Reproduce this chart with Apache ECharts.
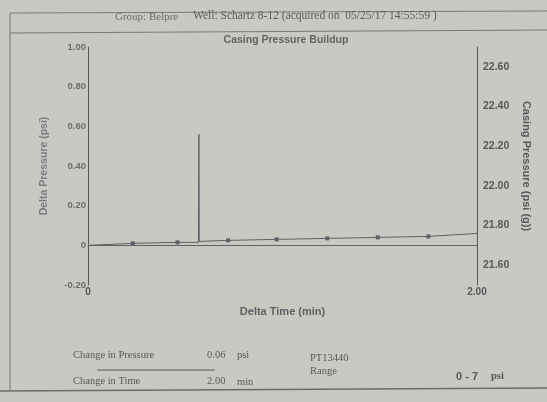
<!DOCTYPE html>
<html>
<head>
<meta charset="utf-8">
<script src="https://cdn.jsdelivr.net/npm/echarts@6/dist/echarts.min.js"></script>
<style>
  html, body { margin: 0; padding: 0; background: #c9c9c4; }
  #chart { width: 547px; height: 402px; }
</style>
</head>
<body>
<div id="chart"></div>
<script>
// delta time (min) / delta pressure (psi)
var deltaTime =     [0,    0.23,  0.46,  0.568, 0.57, 0.572, 0.72,  0.97, 1.23,  1.49, 1.75,  2.00];
var deltaPressure = [0,    0.01,  0.015, 0.015, 0.56, 0.02,  0.025, 0.03, 0.035, 0.04, 0.045, 0.06];
var markerAt =      [false, true, true,  false, false, false, true,  true, true,  true, true,  false];

var leftTicks = [-0.2, 0, 0.2, 0.4, 0.6, 0.8, 1.0];
var rightTicks = [21.6, 21.8, 22.0, 22.2, 22.4, 22.6];

var ink = '#55585a';
var chart = echarts.init(document.getElementById('chart'));

var points = deltaTime.map(function (t, i) {
  return {
    value: [t, deltaPressure[i]],
    symbol: markerAt[i] ? 'rect' : 'none'
  };
});

chart.setOption({
  backgroundColor: '#c9c9c4',
  animation: false,
  textStyle: { fontFamily: 'Liberation Sans' },
  grid: { left: 88, right: 70, top: 47, bottom: 117 },
  title: {
    text: 'Casing Pressure Buildup',
    left: 281, top: 30, textAlign: 'center',
    textStyle: { fontSize: 10.5, fontWeight: 'bold', color: '#606366' }
  },
  xAxis: {
    type: 'value', min: 0, max: 2, interval: 2,
    name: 'Delta Time (min)', nameLocation: 'middle', nameGap: 21,
    nameTextStyle: { fontSize: 11, fontWeight: 'bold', color: '#5e6164' },
    axisLine: { lineStyle: { color: ink, width: 1 } },
    axisTick: { show: false },
    splitLine: { show: false },
    axisLabel: {
      fontSize: 10, fontWeight: 'bold', color: ink, margin: 2,
      formatter: function (v) { return v === 0 ? '0' : v.toFixed(2); }
    }
  },
  yAxis: [{
    type: 'value', min: -0.2, max: 1.0, interval: 0.2,
    name: 'Delta Pressure (psi)', nameLocation: 'middle', nameGap: 38,
    nameTextStyle: { fontSize: 10.5, fontWeight: 'bold', color: '#7a7d80' },
    axisLine: { show: true, lineStyle: { color: ink, width: 1 } },
    axisTick: { show: false },
    splitLine: { show: false },
    axisLabel: {
      fontSize: 9.5, fontWeight: 'bold', color: '#6a6d70', margin: 2,
      formatter: function (v) {
        var r = Math.round(v * 100) / 100;
        return r === 0 ? '0' : r.toFixed(2);
      }
    }
  }, {
    type: 'value', min: 21.5, max: 22.7, interval: 0.1,
    position: 'right',
    name: 'Casing Pressure (psi (g))', nameLocation: 'middle', nameGap: 44,
    nameRotate: -90,
    nameTextStyle: { fontSize: 11, fontWeight: 'bold', color: ink },
    axisLine: { show: true, lineStyle: { color: ink, width: 1 } },
    axisTick: { show: false },
    splitLine: { show: false },
    axisLabel: {
      fontSize: 10.5, fontWeight: 'bold', color: ink, margin: 6,
      formatter: function (v) {
        var r = Math.round(v * 10) / 10;
        return rightTicks.some(function (t) { return Math.abs(t - r) < 1e-6; }) ? r.toFixed(2) : '';
      }
    }
  }],
  series: [{
    type: 'line',
    yAxisIndex: 0,
    data: points,
    symbolSize: 4,
    showAllSymbol: true,
    lineStyle: { color: '#5d6064', width: 1 },
    itemStyle: { color: '#5d6064' },
    markLine: {
      silent: true, symbol: 'none', label: { show: false },
      lineStyle: { color: '#5d6064', type: 'solid', width: 1 },
      data: [{ yAxis: 0 }]
    }
  }],
  graphic: [
    // page frame
    { type: 'line', shape: { x1: 10, y1: 13, x2: 547, y2: 11 }, style: { stroke: '#77797b', lineWidth: 1 } },
    { type: 'line', shape: { x1: 10, y1: 13, x2: 10, y2: 390 }, style: { stroke: '#77797b', lineWidth: 1 } },
    { type: 'line', shape: { x1: 10, y1: 33, x2: 547, y2: 30 }, style: { stroke: '#77797b', lineWidth: 1 } },
    { type: 'line', shape: { x1: 0, y1: 391, x2: 547, y2: 388 }, style: { stroke: '#6a6c6e', lineWidth: 1.5 } },
    // header
    { type: 'text', left: 115, top: 12, style: { text: 'Group: Belpre', font: '11px "Liberation Serif"', fill: '#6a6d70' } },
    { type: 'text', left: 193, top: 10, style: { text: 'Well: Schartz 8-12 (acquired on  05/25/17 14:55:59 )', font: '11.5px "Liberation Serif"', fill: '#5a5d60' } },
    // footer
    { type: 'text', left: 73, top: 350, style: { text: 'Change in Pressure', font: '10.5px "Liberation Serif"', fill: ink } },
    { type: 'text', left: 207, top: 350, style: { text: '0.06', font: '10.5px "Liberation Serif"', fill: ink } },
    { type: 'text', left: 237, top: 350, style: { text: 'psi', font: '10.5px "Liberation Serif"', fill: ink } },
    { type: 'line', shape: { x1: 97, y1: 370, x2: 215, y2: 370 }, style: { stroke: '#55585a', lineWidth: 1 } },
    { type: 'text', left: 73, top: 376, style: { text: 'Change in Time', font: '10.5px "Liberation Serif"', fill: ink } },
    { type: 'text', left: 207, top: 376, style: { text: '2.00', font: '10.5px "Liberation Serif"', fill: ink } },
    { type: 'text', left: 237, top: 377, style: { text: 'min', font: '10.5px "Liberation Serif"', fill: ink } },
    { type: 'text', left: 310, top: 353, style: { text: 'PT13440', font: '10.5px "Liberation Serif"', fill: ink } },
    { type: 'text', left: 310, top: 366, style: { text: 'Range', font: '10.5px "Liberation Serif"', fill: ink } },
    { type: 'text', left: 456, top: 371, style: { text: '0 - 7', font: 'bold 11px "Liberation Sans"', fill: ink } },
    { type: 'text', left: 491, top: 371, style: { text: 'psi', font: 'bold 10.5px "Liberation Serif"', fill: ink } }
  ]
});
</script>
</body>
</html>
